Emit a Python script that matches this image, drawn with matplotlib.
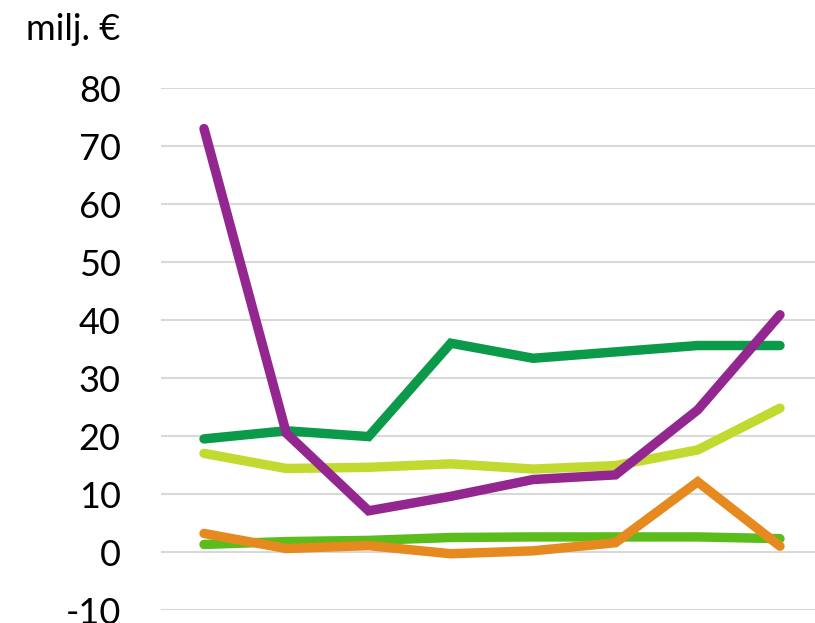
import matplotlib
matplotlib.use("Agg")
import matplotlib.pyplot as plt

x_idx = [0, 1, 2, 3, 4, 5, 6, 7]
purple = [73.0, 20.5, 7.1, 9.6, 12.5, 13.3, 24.5, 40.9]
dark_green = [19.5, 20.9, 19.9, 36.0, 33.4, 34.5, 35.6, 35.6]
light_green = [17.0, 14.4, 14.6, 15.2, 14.3, 14.9, 17.6, 24.8]
orange = [3.2, 0.6, 1.1, -0.3, 0.2, 1.6, 12.1, 1.0]
mid_green = [1.3, 1.8, 2.0, 2.5, 2.6, 2.6, 2.6, 2.3]
yticks = [-10, 0, 10, 20, 30, 40, 50, 60, 70, 80]
unit_label = "milj. €"

plt.rcParams['font.family'] = ['Lato', 'DejaVu Sans']

fig = plt.figure(figsize=(8.15, 6.23), dpi=100)
W, H = 815, 623
ax = fig.add_axes([161 / W, 1 - 610 / H, (W - 161) / W, (610 - 88) / H])

lw = 6.8
series = [
    (mid_green, '#5BBD1C'),
    (orange, '#E68A20'),
    (light_green, '#C2DA2F'),
    (dark_green, '#0B9A4A'),
    (purple, '#93278F'),
]
for vals, col in series:
    ax.plot(x_idx, vals, color=col, lw=lw, solid_capstyle='round', solid_joinstyle='miter', zorder=3)

ax.set_ylim(-10, 80)
unit = (780 - 204) / 7
ax.set_xlim(-(204 - 161) / unit, 7 + (W - 780) / unit)
ax.set_yticks(yticks)
ax.set_yticklabels([str(t) for t in yticks], fontsize=26)
ax.set_xticks([])
ax.tick_params(axis='y', length=0, pad=29)
for s in ax.spines.values():
    s.set_visible(False)
ax.grid(axis='y', color='#d9d9d9', lw=1.5, zorder=0)
ax.set_axisbelow(True)

fig.text(120 / W, 1 - 29 / H, unit_label, fontsize=26, ha='right', va='center')

fig.savefig("out.png", dpi=100)
